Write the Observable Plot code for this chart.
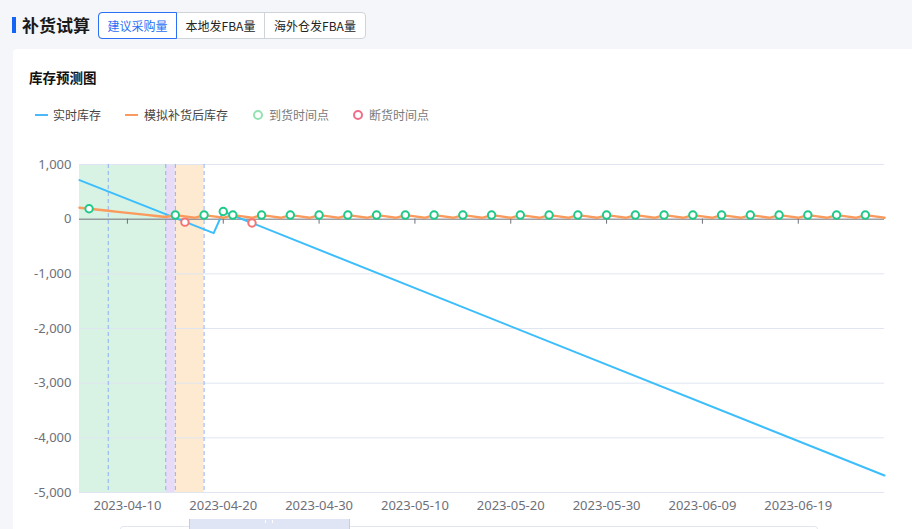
<!DOCTYPE html>
<html><head><meta charset="utf-8">
<script src="https://cdn.jsdelivr.net/npm/d3@7"></script>
<script src="https://cdn.jsdelivr.net/npm/@observablehq/plot@0.6"></script>
<style>
html,body{margin:0;padding:0}
body{width:912px;height:529px;overflow:hidden;background:#f5f6fa;font-family:"Noto Sans CJK SC","Noto Sans",sans-serif;position:relative}
#bar{position:absolute;left:12px;top:17px;width:4px;height:16px;background:#1464f6}
#title{position:absolute;left:22px;top:13px;font-size:17px;font-weight:700;color:#1a1a1a;line-height:24px}
#tabs{position:absolute;left:98px;top:12px;height:27px;display:flex;border:1px solid #cfd3da;border-radius:4px;box-sizing:border-box;background:#fff}
.tab{font-size:12px;line-height:25px;text-align:center;color:#222;box-sizing:border-box}
.tab+.tab{border-left:1px solid #cfd3da}
.tab.active{color:#2a6ff5;outline:1px solid #2a6ff5;border-radius:3px 0 0 3px;position:relative;z-index:1}
#card{position:absolute;left:13px;top:49px;width:920px;height:500px;background:#fff;border-radius:4px}
#ctitle{position:absolute;left:29px;top:67px;font-size:13.5px;font-weight:700;color:#111;line-height:20px}
#legend{position:absolute;left:0;top:106px;height:18px;font-size:12px;line-height:18px}
.li{position:absolute;top:0;white-space:nowrap}
.ln{position:absolute;top:8px;width:13px;height:2px}
.cc{position:absolute;top:4px;width:6px;height:6px;border-radius:50%;border:2px solid}
#chart{position:absolute;left:0;top:140px}
#slbox{position:absolute;left:120px;top:526px;width:698px;height:20px;border:1px solid #e1e6f0;border-radius:3px;box-sizing:border-box;background:#fff}
#slsel{position:absolute;left:189px;top:519px;width:161px;height:14px;background:#dfe5f5;border-left:1px solid #c4cde2;border-right:1px solid #c4cde2;box-sizing:border-box}
#slgrip{position:absolute;left:265px;top:520px;width:6px;height:3px;border-left:1px solid #fff;border-right:1px solid #fff}
</style></head>
<body>
<div id="bar"></div><div id="title">补货试算</div>
<div id="tabs"><div class="tab active" style="width:77px">建议采购量</div><div class="tab" style="width:88px">本地发FBA量</div><div class="tab" style="width:101px">海外仓发FBA量</div></div>
<div id="card"></div>
<div id="ctitle">库存预测图</div>
<div id="legend"></div>
<div id="chart"></div>
<div id="slbox"></div>
<div id="slsel"></div>
<div id="slgrip"></div>
<script>
// ---- data ----
const startDate = "2023-04-05";
const endDate = "2023-06-28";
const xTickLabels = ["2023-04-10","2023-04-20","2023-04-30","2023-05-10","2023-05-20","2023-05-30","2023-06-09","2023-06-19"];
const yTickValues = [1000, 0, -1000, -2000, -3000, -4000, -5000];

// 实时库存 (vertices of the line)
const realDates = ["2023-04-05","2023-04-19","2023-04-20","2023-06-28"];
const realValues = [715, -255, 140, -4690];

// 模拟补货后库存 (daily, from 2023-04-05 to 2023-06-28)
const simValues = [210,191,172,153,134,115,96,78,59,40,
  75,50,25, 75,50,25, 75,50,25, 75,50,25, 75,50,25,
  75,50,25, 75,50,25, 75,50,25, 75,50,25, 75,50,25,
  75,50,25, 75,50,25, 75,50,25, 75,50,25, 75,50,25,
  75,50,25, 75,50,25, 75,50,25, 75,50,25, 75,50,25,
  75,50,25, 75,50,25, 75,50,25, 75,50,25, 75,50,25];

// 到货时间点
const arrivalDates = ["2023-04-06","2023-04-15","2023-04-18","2023-04-20","2023-04-21","2023-04-24","2023-04-27","2023-04-30",
  "2023-05-03","2023-05-06","2023-05-09","2023-05-12","2023-05-15","2023-05-18","2023-05-21","2023-05-24","2023-05-27","2023-05-30",
  "2023-06-02","2023-06-05","2023-06-08","2023-06-11","2023-06-14","2023-06-17","2023-06-20","2023-06-23","2023-06-26"];
const arrivalValues = [191,75,75,140,75,75,75,75, 75,75,75,75,75,75,75,75,75,75, 75,75,75,75,75,75,75,75,75];

// 断货时间点
const stockoutDates = ["2023-04-16","2023-04-23"];
const stockoutValues = [-55, -70];

// shaded periods
const bandStarts = ["2023-04-05","2023-04-14","2023-04-15"];
const bandEnds = ["2023-04-14","2023-04-15","2023-04-18"];
const bandColors = ["#d8f2e4","#e7dbf7","#fdead0"];
const dashDates = ["2023-04-08","2023-04-14","2023-04-15","2023-04-18"];

// ---- build ----
const P = s => new Date(s + "T00:00:00Z");
const days = d3.utcDay.range(P(startDate), d3.utcDay.offset(P(endDate), 1));
const sim = days.map((d, i) => ({date: d, value: simValues[i]}));
const real = realDates.map((d, i) => ({date: P(d), value: realValues[i]}));
const arrivals = arrivalDates.map((d, i) => ({date: P(d), value: arrivalValues[i]}));
const stockouts = stockoutDates.map((d, i) => ({date: P(d), value: stockoutValues[i]}));
const bands = bandStarts.map((s, i) => ({x1: P(s), x2: P(bandEnds[i]), fill: bandColors[i]}));
const xTicks = xTickLabels.map(P);

const BLUE = "#3dbefc", ORANGE = "#fa9a5c", GREEN = "#1fc98a", RED = "#f57373";

const chart = Plot.plot({
  width: 912, height: 389,
  marginLeft: 79, marginRight: 28, marginTop: 24, marginBottom: 37,
  style: {fontSize: "13px", fontFamily: "'Noto Sans', sans-serif", color: "#6e7079", background: "transparent"},
  x: {type: "utc", domain: [P(startDate), P(endDate)]},
  y: {domain: [-5000, 1000]},
  marks: [
    Plot.rect(bands, {x1: "x1", x2: "x2", fill: "fill"}),
    Plot.ruleY(yTickValues.filter(v => v !== 0), {stroke: "#e0e6f1"}),
    Plot.ruleX(dashDates.map(P), {stroke: "#8db0f6", strokeDasharray: "4,3"}),
    Plot.ruleY([0], {stroke: "#6e7079"}),
    Plot.ruleX(xTicks, {y1: 0, y2: -92, stroke: "#6e7079"}),
    Plot.axisY({ticks: yTickValues, tickSize: 0, tickPadding: 8, tickFormat: d => d.toLocaleString("en-US"), label: null}),
    Plot.axisX({ticks: xTicks, tickSize: 0, tickPadding: 8, tickFormat: d3.utcFormat("%Y-%m-%d"), label: null}),
    Plot.line(real, {x: "date", y: "value", stroke: BLUE, strokeWidth: 2}),
    Plot.line(sim, {x: "date", y: "value", stroke: ORANGE, strokeWidth: 2.4}),
    Plot.dot(arrivals, {x: "date", y: "value", r: 3.7, stroke: GREEN, strokeWidth: 2, fill: "#fff"}),
    Plot.dot(stockouts, {x: "date", y: "value", r: 3.7, stroke: RED, strokeWidth: 2, fill: "#fff"})
  ]
});
document.getElementById("chart").appendChild(chart);

// ---- legend ----
const legendItems = [
  {label: "实时库存", kind: "line", color: "#4cb8fb", x: 35, tx: 53, tc: "#444"},
  {label: "模拟补货后库存", kind: "line", color: "#fb9a5e", x: 125, tx: 144, tc: "#444"},
  {label: "到货时间点", kind: "circle", color: "#93e2b2", x: 253, tx: 269, tc: "#7a7a7a"},
  {label: "断货时间点", kind: "circle", color: "#f06e8a", x: 353, tx: 369, tc: "#7a7a7a"}
];
const lg = document.getElementById("legend");
legendItems.forEach(it => {
  const m = document.createElement("div");
  if (it.kind === "line") { m.className = "ln"; m.style.left = it.x + "px"; m.style.background = it.color; }
  else { m.className = "cc"; m.style.left = it.x + "px"; m.style.borderColor = it.color; }
  lg.appendChild(m);
  const t = document.createElement("div");
  t.className = "li"; t.style.left = it.tx + "px"; t.style.color = it.tc; t.textContent = it.label;
  lg.appendChild(t);
});
</script>
</body></html>
